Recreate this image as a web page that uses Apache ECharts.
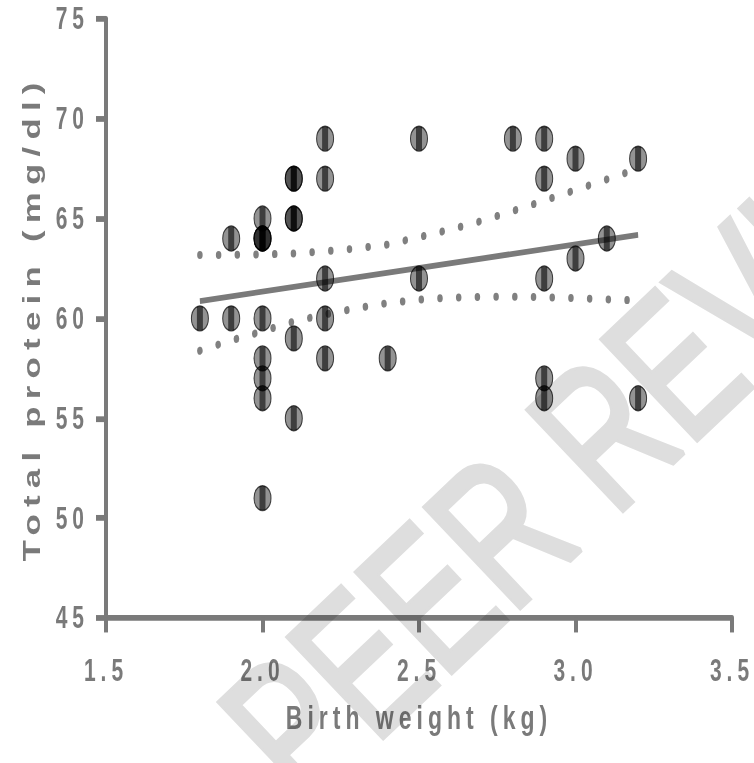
<!DOCTYPE html>
<html>
<head>
<meta charset="utf-8">
<script src="https://cdn.jsdelivr.net/npm/echarts@6/dist/echarts.min.js"></script>
<style>
html,body{margin:0;padding:0;background:#fff;overflow:hidden;width:754px;height:763px}
#wrap{position:absolute;left:0;top:0;width:754px;height:526px;transform:scaleY(1.4506);transform-origin:0 0}
#chart{width:754px;height:526px}
#chart text{letter-spacing:5px}
#mark{position:absolute;left:0;top:0;width:754px;height:763px;pointer-events:none;mix-blend-mode:multiply}
#mark text{vector-effect:non-scaling-stroke}
</style>
</head>
<body>
<div id="wrap"><div id="chart"></div></div>
<div id="mark"></div>
<script>
// Scatter points: birth weight (kg) and total protein (mg/dl)
const pointX = [1.8, 1.9, 1.9, 2.0, 2.0, 2.0, 2.0, 2.0, 2.0, 2.0, 2.0, 2.0,
  2.1, 2.1, 2.1, 2.1, 2.1, 2.1, 2.2, 2.2, 2.2, 2.2, 2.2, 2.4, 2.5, 2.5, 2.8,
  2.9, 2.9, 2.9, 2.9, 2.9, 3.0, 3.0, 3.1, 3.2, 3.2];
const pointY = [60, 64, 60, 65, 64, 64, 64, 60, 58, 57, 56, 51,
  67, 67, 65, 65, 59, 55, 69, 67, 62, 60, 58, 58, 69, 62, 69,
  69, 67, 62, 57, 56, 68, 63, 64, 68, 56];

// Regression line end points
const fitX = [1.8, 3.2];
const fitY = [60.87, 64.18];

// 95% confidence band
const bandX = [1.8, 1.9, 2.0, 2.1, 2.2, 2.3, 2.4, 2.5, 2.6, 2.7, 2.8, 2.9, 3.0, 3.1, 3.2];
const bandUpper = [63.18, 63.18, 63.2, 63.25, 63.36, 63.5, 63.7, 64.07, 64.45, 64.88, 65.38, 65.9, 66.43, 66.96, 67.5];
const bandLower = [58.38, 58.9, 59.35, 59.85, 60.2, 60.51, 60.77, 60.94, 61.04, 61.08, 61.09, 61.06, 61.02, 60.95, 60.9];

// Axes
const xMin = 1.5, xMax = 3.5, xStep = 0.5;
const yMin = 45, yMax = 75, yStep = 5;
const xTitle = 'Birth weight (kg)';
const yTitle = 'Total protein (mg/dl)';
const watermark = 'PEER REVIEW';

const grey = '#7a7a7a';
const font = '"Liberation Sans", Arial, sans-serif';

const pts = pointX.map((x, i) => [x, pointY[i]]);
const zip = (a, b) => a.map((v, i) => [v, b[i]]);

const axisCommon = {
  axisLine: { show: true, onZero: false, lineStyle: { color: grey, width: 4 } },
  axisTick: { show: true, length: 10, lineStyle: { color: grey, width: 4 } },
  splitLine: { show: false },
  nameLocation: 'middle'
};

const chart = echarts.init(document.getElementById('chart'), null, { renderer: 'svg' });
chart.setOption({
  backgroundColor: '#fff',
  animation: false,
  grid: { left: 106, right: 22, top: 13, bottom: 100 },
  xAxis: Object.assign({}, axisCommon, {
    type: 'value', min: xMin, max: xMax, interval: xStep,
    name: xTitle, nameGap: 57,
    nameTextStyle: { color: grey, fontFamily: font, fontWeight: 'bold', fontSize: 23 },
    axisLabel: { margin: 26, color: grey, fontFamily: font, fontWeight: 'bold', fontSize: 21,
      formatter: v => v.toFixed(1) }
  }),
  yAxis: Object.assign({}, axisCommon, {
    type: 'value', min: yMin, max: yMax, interval: yStep,
    name: yTitle, nameGap: 62, nameRotate: 90,
    nameTextStyle: { color: grey, fontFamily: font, fontWeight: 'bold', fontSize: 24 },
    axisLabel: { margin: 17, color: grey, fontFamily: font, fontWeight: 'bold', fontSize: 21 }
  }),
  series: [
    { type: 'line', data: zip(bandX, bandUpper), showSymbol: false, z: 2, silent: true,
      lineStyle: { color: '#808080', width: 5.5, type: [0.01, 18.7], cap: 'round' } },
    { type: 'line', data: zip(bandX, bandLower), showSymbol: false, z: 2, silent: true,
      lineStyle: { color: '#808080', width: 5.5, type: [0.01, 18.7], cap: 'round' } },
    { type: 'line', data: zip(fitX, fitY), showSymbol: false, z: 3, silent: true,
      lineStyle: { color: grey, width: 4 } },
    { type: 'scatter', data: pts, symbol: 'circle', symbolSize: 17, z: 4,
      itemStyle: { color: 'rgba(0,0,0,0.53)', borderColor: 'rgba(0,0,0,0.9)', borderWidth: 1 } },
    { type: 'scatter', data: pts, symbol: 'rect', symbolSize: [6, 16.4], z: 5,
      itemStyle: { color: 'rgba(0,0,0,0.72)' } }
  ]
});

// Watermark layout: first letter centre and 7th letter centre as seen in the reference
const wmFontSize = 200;
const wmFont = wmFontSize + 'px "Liberation Sans", Arial, sans-serif';
const firstC = [292, 728], seventhC = [675, 365];
const ctx = document.createElement('canvas').getContext('2d');
ctx.font = wmFont;
const mw = s => ctx.measureText(s).width;
const wFirst = mw(watermark[0]);
const dx = seventhC[0] - firstC[0], dy = seventhC[1] - firstC[1];
const distNat = mw(watermark.slice(0, 6)) + mw(watermark[6]) / 2 - wFirst / 2;
const sx = Math.hypot(dx, dy) / distNat;
const ang = Math.atan2(-dy, dx);
const offs = (mw(watermark) / 2 - wFirst / 2) * sx;
const cx = firstC[0] + Math.cos(ang) * offs, cy = firstC[1] - Math.sin(ang) * offs;

const mark = echarts.init(document.getElementById('mark'), null, { renderer: 'svg' });
mark.setOption({
  backgroundColor: 'transparent',
  graphic: [{
    type: 'text', x: cx, y: cy, rotation: ang, scaleX: sx, z: 100, silent: true,
    style: {
      text: watermark, font: wmFont,
      fill: '#dedede', stroke: '#dedede', lineWidth: 5, lineJoin: 'round',
      align: 'center', verticalAlign: 'middle'
    }
  }]
});
</script>
</body>
</html>
